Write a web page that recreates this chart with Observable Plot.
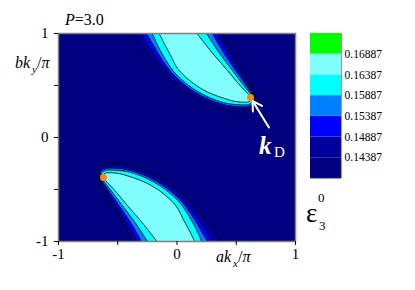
<!DOCTYPE html>
<html><head><meta charset="utf-8">
<script src="https://cdn.jsdelivr.net/npm/d3@7"></script>
<script src="https://cdn.jsdelivr.net/npm/@observablehq/plot@0.6"></script>
<style>
body{margin:0;background:#fff;}
#wrap{position:relative;width:415px;height:290px;font-family:"Liberation Serif","Times New Roman",serif;overflow:hidden;}
#wrap svg{position:absolute;}
.lbl{position:absolute;white-space:nowrap;line-height:1;color:#000;font-family:"Liberation Serif","Times New Roman",serif;}
</style></head><body><div id="wrap"></div>
<script>
// contour levels of eps_3^0 and legend
const levels = [0.14387, 0.14887, 0.15387, 0.15887, 0.16387, 0.16887];
const levelLabels = ["0.14387", "0.14887", "0.15387", "0.15887", "0.16387", "0.16887"];
const bandColors = ["#000080", "#00009c", "#0000ff", "#0080ff", "#00ffff", "#80ffff", "#00ff00"];
const xTicks = [-1, -0.5, 0, 0.5, 1];
const yTicks = [-1, -0.5, 0, 0.5, 1];

// contour lines of the lower lobe (upper lobe is its inversion k -> -k)
const c14387x = [-0.376, -0.456, -0.544, -0.620, -0.658, -0.679, -0.654, -0.586, -0.502, -0.384, -0.224, -0.055, 0.086, 0.198, 0.283, 0.367];
const c14387y = [-1, -0.817, -0.644, -0.5, -0.413, -0.356, -0.284, -0.25, -0.247, -0.269, -0.337, -0.449, -0.593, -0.738, -0.865, -1];
const c14887x = [-0.338, -0.426, -0.521, -0.603, -0.647, -0.662, -0.641, -0.581, -0.500, -0.388, -0.232, -0.072, 0.062, 0.163, 0.235, 0.300];
const c14887y = [-1, -0.817, -0.644, -0.5, -0.413, -0.362, -0.303, -0.277, -0.277, -0.296, -0.362, -0.470, -0.610, -0.753, -0.875, -1];
const c15387x = [-0.300, -0.392, -0.495, -0.583, -0.635, -0.651, -0.633, -0.578, -0.498, -0.392, -0.239, -0.085, 0.044, 0.134, 0.197, 0.257];
const c15387y = [-1, -0.817, -0.644, -0.5, -0.413, -0.365, -0.315, -0.295, -0.297, -0.317, -0.382, -0.488, -0.623, -0.764, -0.883, -1];
const c15887x = [-0.249, -0.354, -0.468, -0.563, -0.623, -0.640, -0.624, -0.575, -0.496, -0.394, -0.245, -0.097, 0.028, 0.110, 0.165, 0.207];
const c15887y = [-1, -0.817, -0.644, -0.5, -0.413, -0.369, -0.328, -0.313, -0.317, -0.335, -0.399, -0.502, -0.634, -0.775, -0.889, -1];
const c16387x = [-0.169, -0.295, -0.426, -0.532, -0.603, -0.624, -0.612, -0.570, -0.494, -0.401, -0.257, -0.122, -0.008, 0.058, 0.108, 0.150];
const c16387y = [-1, -0.817, -0.644, -0.5, -0.413, -0.375, -0.346, -0.339, -0.346, -0.375, -0.438, -0.534, -0.659, -0.798, -0.904, -1];

// Dirac points
const diracX = [-0.62, 0.62];
const diracY = [-0.385, 0.385];

const contours = [
  {level: levels[0], x: c14387x, y: c14387y},
  {level: levels[1], x: c14887x, y: c14887y},
  {level: levels[2], x: c15387x, y: c15387y},
  {level: levels[3], x: c15887x, y: c15887y},
  {level: levels[4], x: c16387x, y: c16387y}
];
const rows = contours.flatMap((c, k) => [1, -1].flatMap(s =>
  c.x.map((x, i) => ({key: k + "_" + s, level: c.level, x: s * x, y: s * c.y[i]}))));
const dirac = diracX.map((x, i) => ({x, y: diracY[i]}));

const wrap = document.getElementById("wrap");
const font = "'Liberation Serif','Times New Roman',serif";

const main = Plot.plot({
  width: 415, height: 290,
  marginLeft: 58, marginRight: 120, marginTop: 33, marginBottom: 49,
  style: {fontFamily: font, fontSize: "15px", background: "transparent", color: "#000"},
  x: {domain: [-1, 1]},
  y: {domain: [-1, 1]},
  color: {type: "threshold", domain: levels, range: bandColors},
  marks: [
    Plot.frame({fill: bandColors[0], stroke: null}),
    Plot.line(rows, {x: "x", y: "y", z: "key", fill: "level", stroke: null, curve: "catmull-rom", clip: true}),
    Plot.line(rows, {x: "x", y: "y", z: "key", stroke: "#000", strokeWidth: 0.8, curve: "catmull-rom", clip: true}),
    Plot.frame({stroke: "#808080", strokeWidth: 1.5}),
    Plot.axisX({ticks: xTicks, tickFormat: d => Number.isInteger(d) ? String(d) : "", tickSize: 4, tickPadding: 3, label: null, fontSize: 15}),
    Plot.axisY({ticks: yTicks, tickFormat: d => Number.isInteger(d) ? String(d) : "", tickSize: 4, tickPadding: 6, label: null, fontSize: 15}),
    Plot.arrow([{x1: 0.776, y1: 0.096, x2: diracX[1], y2: diracY[1]}], {x1: "x1", y1: "y1", x2: "x2", y2: "y2", stroke: "#fff", strokeWidth: 2, headLength: 8, insetEnd: 4}),
    Plot.dot(dirac, {x: "x", y: "y", r: 3.5, fill: "#ff8a00", stroke: null})
  ]
});
main.style.left = "0px"; main.style.top = "0px";
wrap.appendChild(main);

// legend
const legendRows = bandColors.map((c, i) => ({i, y1: i, y2: i + 1, color: c}));
const legend = Plot.plot({
  width: 115, height: 160,
  marginLeft: 10, marginRight: 74, marginTop: 5, marginBottom: 10,
  style: {fontFamily: font, fontSize: "11.5px", background: "transparent", color: "#000"},
  x: {domain: [0, 1], axis: null},
  y: {domain: [0, 7]},
  color: {type: "identity"},
  marks: [
    Plot.rect(legendRows, {x1: 0, x2: 1, y1: "y1", y2: "y2", fill: "color"}),
    Plot.ruleX([1], {stroke: "#9a9a9a", strokeWidth: 1.2}),
    Plot.ruleY([0], {stroke: "#9a9a9a", strokeWidth: 1.2}),
    Plot.axisY({anchor: "right", ticks: [1, 2, 3, 4, 5, 6], tickFormat: i => levelLabels[i - 1], tickSize: 0, tickPadding: 3, label: null, fontSize: 11.5})
  ]
});
legend.style.left = "300px"; legend.style.top = "28px";
wrap.appendChild(legend);

// text labels
function lbl(html, left, top, size, extra) {
  const d = document.createElement("div");
  d.className = "lbl";
  d.innerHTML = html;
  d.style.left = left + "px"; d.style.top = top + "px"; d.style.fontSize = size + "px";
  if (extra) Object.assign(d.style, extra);
  wrap.appendChild(d);
}
lbl("<i>P</i>=3.0", 65, 12, 16);
lbl("<i>bk</i>", 15, 55, 16);
lbl("<i>y</i>", 32, 64, 11);
lbl("/<i>π</i>", 37, 55, 16);
lbl("<i>ak</i>", 216, 249, 16);
lbl("<i>x</i>", 233, 258, 11);
lbl("/<i>π</i>", 238, 249, 16);
lbl("ε", 306, 200, 27);
lbl("0", 318, 191, 13);
lbl("3", 319, 219, 13);
lbl("<b><i>k</i></b>", 259, 133, 25, {color: "#fff"});
lbl("D", 274, 145, 15, {color: "#fff"});
</script></body></html>
